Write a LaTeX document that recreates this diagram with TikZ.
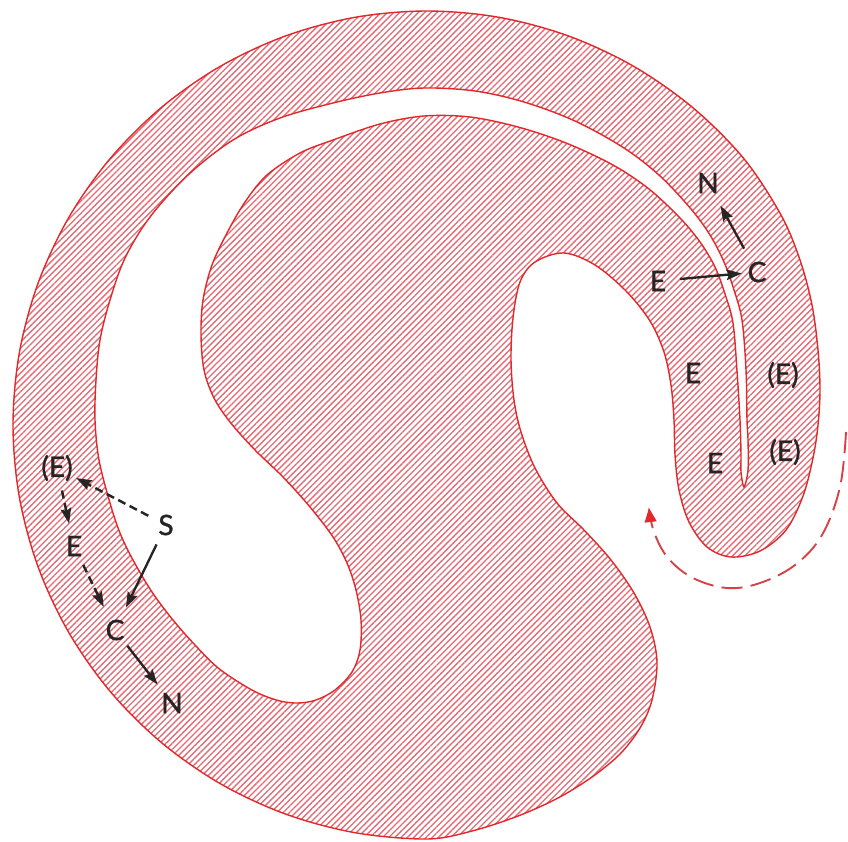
\documentclass[tikz,border=0pt]{standalone}
\usepackage{fontspec}
\newfontfamily\lbfont{Lato}[FakeBold=1.3]
\usetikzlibrary{patterns.meta,arrows.meta}
\definecolor{rimred}{RGB}{226,40,42}
\definecolor{hatch}{RGB}{226,108,118}
\definecolor{ink}{RGB}{38,36,36}
\definecolor{flowred}{RGB}{214,64,70}
\tikzset{
  body/.style={draw=rimred, line width=1.2pt, even odd rule,
    pattern={Lines[angle=45,distance=3.75pt,line width=1.15pt]}, pattern color=hatch},
  lbl/.style={font=\lbfont\fontsize{24pt}{24pt}\selectfont, text=ink, inner sep=0pt},
  arr/.style={draw=ink, line width=2pt, -{Stealth[length=13pt,width=9pt,inset=2pt]}},
  darr/.style={arr, line width=2.1pt, dash pattern=on 7pt off 4pt},
  flow/.style={draw=flowred, line width=1.6pt, dash pattern=on 18pt off 7pt,
    -{Triangle[length=12pt,width=10pt,fill=rimred,color=rimred]}}
}
\begin{document}
\begin{tikzpicture}[x=0.03cm,y=-0.03cm]
\useasboundingbox (0,0) rectangle (848,841);
\fill[white] (0,0) rectangle (848,841);

% hatched body: outer contour with the pocket, and the enclosed white channel with its slit
\draw[body]
  plot[smooth cycle, tension=0.55] coordinates {
    (427,11) (498.9,17.3) (568.6,36) (634,66.5) (693.1,107.9) (744.1,158.9)
    (781,215) (800,260) (812,305) (818,350) (820,390) (818,425) (813,458)
    (803,496) (786,530) (760,551) (731,557) (707,547) (689,522) (679,490)
    (675,455) (674,420) (671,385) (664,352) (650,321) (626,291) (595,265)
    (564,253) (535,262) (520,282) (513,318) (511,360) (514,400) (521,432)
    (535,468) (557,503) (584,530) (611,560) (634,593) (650,627) (657,662)
    (652,700) (640,728) (620,754) (592,777) (558,798) (518,816) (472,831)
    (427,839) (355.1,832.7) (285.4,814) (220,783.5) (160.9,742.1)
    (109.9,691.1) (68.5,632) (38,566.6) (19.3,496.9) (13,425) (19.3,353.1)
    (38,283.4) (68.5,218) (109.9,158.9) (160.9,107.9) (220,66.5)
    (285.4,36) (355.1,17.3)}
  plot[smooth cycle, tension=0.55] coordinates {
    (744,487) (748,470) (748,440) (747,420) (746,370) (742,320) (734,290)
    (724,262) (710,235) (691,209) (660,176) (624,148) (575,121) (524,102)
    (475,91) (424,88) (380,93) (333,103) (280,118) (233,140) (188,175)
    (150,217) (125,258) (110,300) (100,340) (96,380) (95,420) (99,460)
    (110,503) (120,533) (133,560) (152,592) (173,620) (195,645) (217,667)
    (240,683) (260,694) (280,701) (298,703) (316,700) (335,690) (352,672)
    (360,650) (361,620) (356,590) (347,563) (333,537) (310,507) (283,477)
    (255,450) (230,422) (214,398) (204,370) (201,335) (203,300) (212,265)
    (227,233) (245,202) (267,175) (300,153) (333,140) (380,124) (424,116)
    (470,117) (518,127) (566,143) (613,165) (649,189) (680,218) (700,242)
    (715,267) (725,294) (733,323) (737,371) (740,420) (741,455) (741,472)};

% circulation arrow outside the hook
\draw[flow] plot[smooth, tension=0.6] coordinates {
  (846,432) (840,487) (822,535) (795,565) (760,583) (727,588) (693,578)
  (668,558) (654,532) (649,508)};

% labels, upper right
\node[lbl] (rE) at (658,281) {E};
\node[lbl] (rC) at (757,272) {C};
\node[lbl] (rN) at (708,183) {N};
\node[lbl] (rEa) at (693,373) {E};
\node[lbl] (rEb) at (783,375) {(E)};
\node[lbl] (rEc) at (715,463) {E};
\node[lbl] (rEd) at (785,452) {(E)};

% labels, lower left
\node[lbl] (lEp) at (57,468) {(E)};
\node[lbl] (lS) at (166,525) {S};
\node[lbl] (lE) at (74,546) {E};
\node[lbl] (lC) at (115,630) {C};
\node[lbl] (lN) at (172,703) {N};

% connectors
\draw[arr, shorten <=0.66cm, shorten >=0.46cm] (rE.center) -- (rC.center);
\draw[arr, shorten <=0.8cm, shorten >=0.78cm] (rC.center) -- (rN.center);
\draw[darr, shorten <=0.6cm, shorten >=0.65cm] (lS.center) -- (lEp.center);
\draw[darr, shorten <=0.69cm, shorten >=0.69cm] (lEp.center) -- (lE.center);
\draw[darr, shorten <=0.63cm, shorten >=0.77cm] (lE.center) -- (lC.center);
\draw[arr, shorten <=0.65cm, shorten >=0.75cm] (lS.center) -- (lC.center);
\draw[arr, shorten <=0.6cm, shorten >=0.7cm] (lC.center) -- (lN.center);
\end{tikzpicture}
\end{document}
